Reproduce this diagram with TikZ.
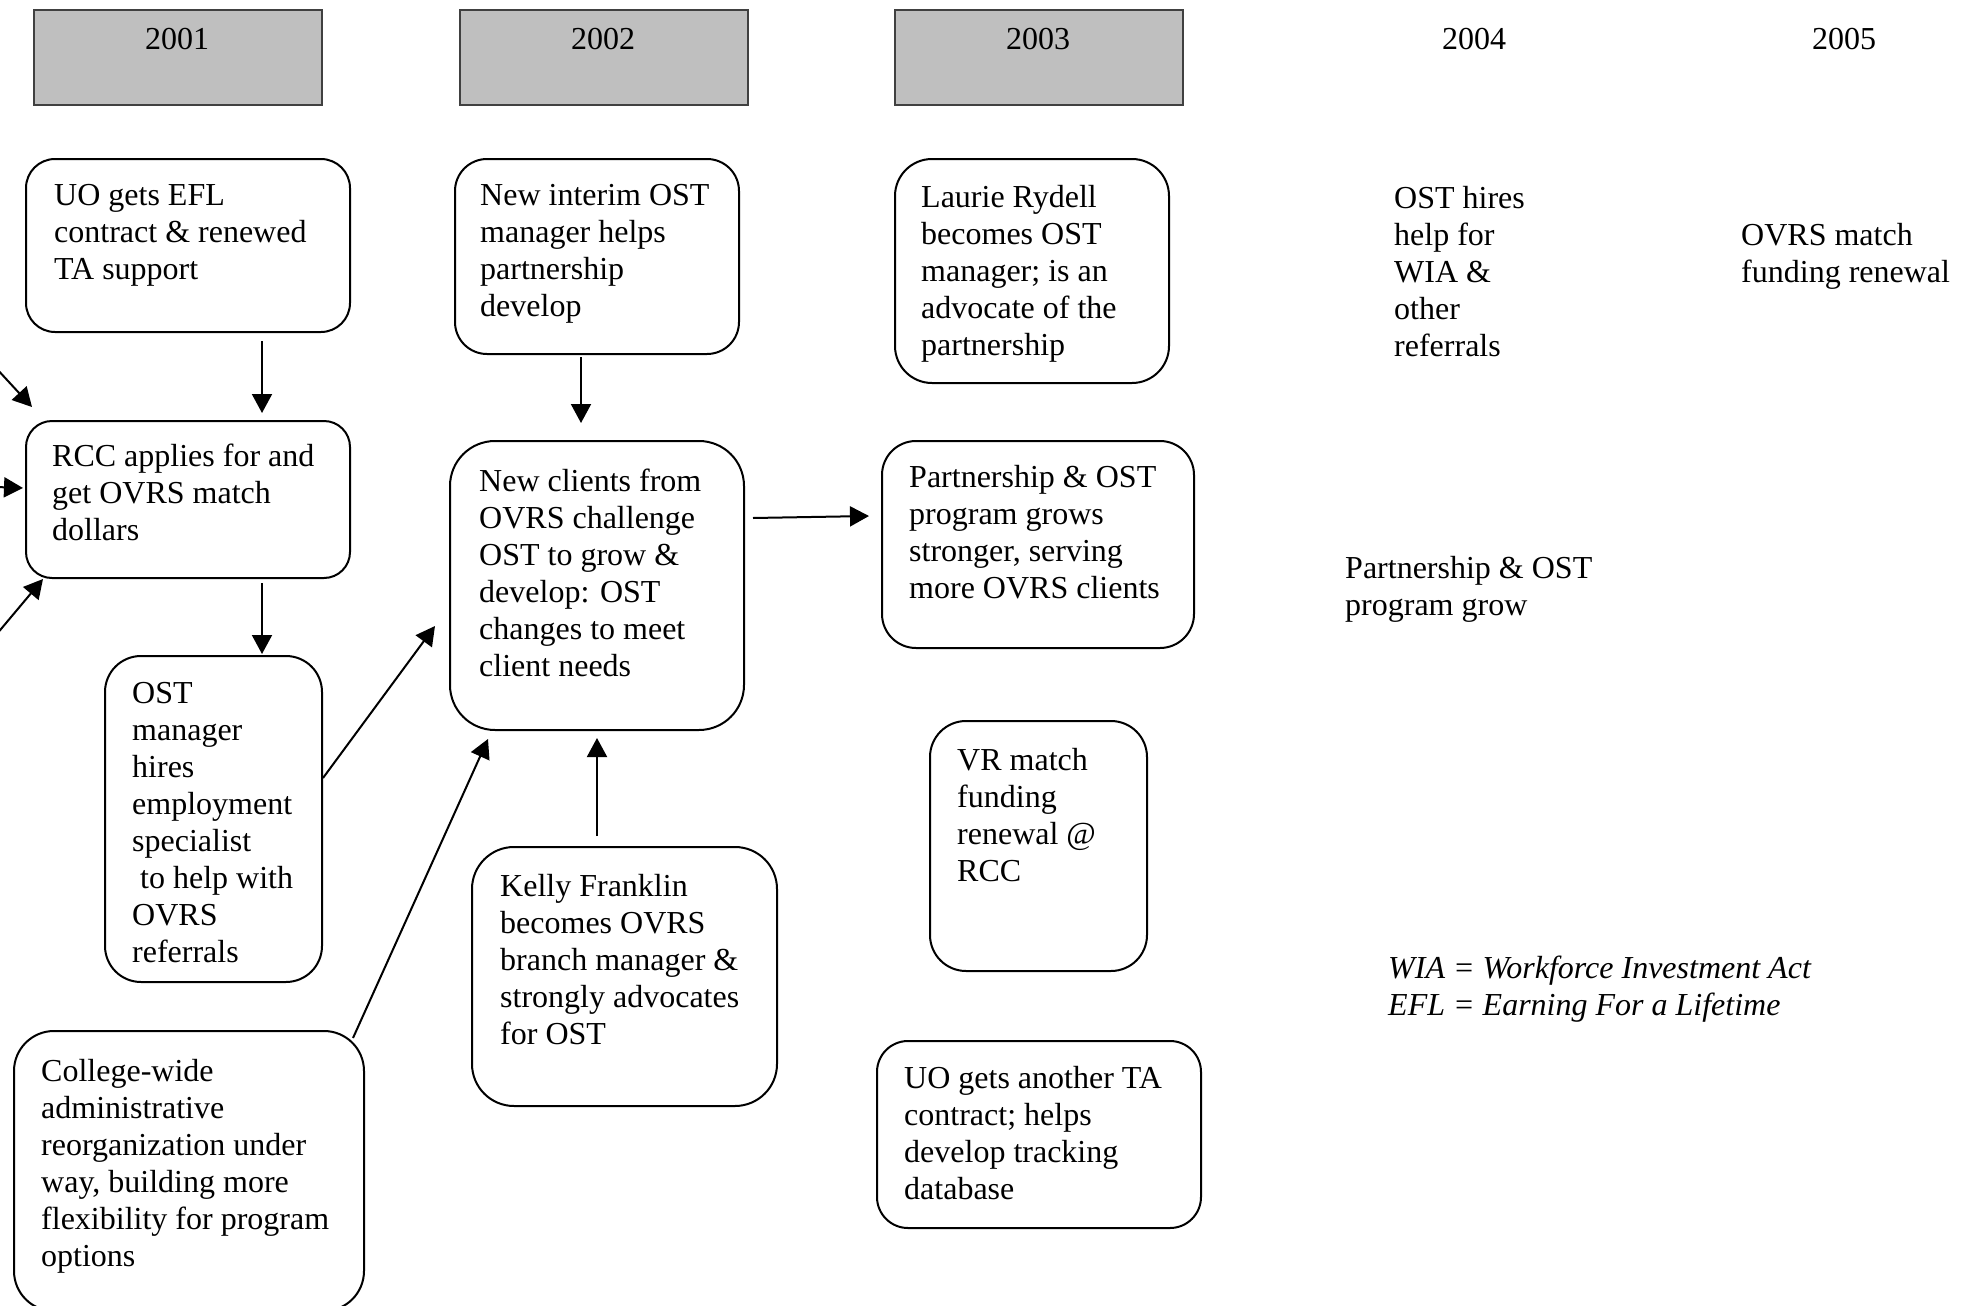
\documentclass[tikz,border=0pt]{standalone}
\usepackage{fontspec}
\setmainfont{Liberation Serif}
\usetikzlibrary{arrows.meta}
\newcommand\bigtxt{\fontsize{32}{37}\selectfont}
\begin{document}
\begin{tikzpicture}[x=1pt,y=1pt,
  rbox/.style={draw=black,line width=2pt,anchor=north west,inner sep=0pt},
  yearbox/.style={draw=black!75,line width=1.6pt,fill=black!25,anchor=north west,inner sep=0pt},
  txt/.style={anchor=north west,inner sep=0pt,align=left,font=\bigtxt,yshift=-5pt,execute at begin node=\strut},
  yr/.style={anchor=base,inner sep=0pt,font=\bigtxt},
  arr/.style={line width=2pt,-{Triangle[length=19pt,width=20pt]}}]
\useasboundingbox (0,0) rectangle (1971,-1306);
% year headers
\node[yearbox,minimum width=288pt,minimum height=95pt] (h1) at (33,-9) {};
\node[yearbox,minimum width=288pt,minimum height=95pt] (h2) at (459,-9) {};
\node[yearbox,minimum width=288pt,minimum height=95pt] (h3) at (894,-9) {};
\node[yr] (y1) at (177,-50) {2001};
\node[yr] (y2) at (603,-50) {2002};
\node[yr] (y3) at (1038,-50) {2003};
\node[yr] (y4) at (1474,-50) {2004};
\node[yr] (y5) at (1844,-50) {2005};
% boxes
\node[rbox,rounded corners=29pt,minimum width=324pt,minimum height=173pt] (uo) at (25,-158) {};
\node[rbox,rounded corners=26pt,minimum width=324pt,minimum height=157pt] (rcc) at (25,-420) {};
\node[rbox,rounded corners=36pt,minimum width=217pt,minimum height=326pt] (ost) at (104,-655) {};
\node[rbox,rounded corners=40pt,minimum width=350pt,minimum height=280pt] (col) at (13,-1030) {};
\node[rbox,rounded corners=32pt,minimum width=284pt,minimum height=195pt] (int) at (454,-158) {};
\node[rbox,rounded corners=45pt,minimum width=294pt,minimum height=289pt] (nc) at (449,-440) {};
\node[rbox,rounded corners=42pt,minimum width=305pt,minimum height=259pt] (kf) at (471,-846) {};
\node[rbox,rounded corners=37pt,minimum width=274pt,minimum height=224pt] (lr) at (894,-158) {};
\node[rbox,rounded corners=34pt,minimum width=312pt,minimum height=207pt] (pgs) at (881,-440) {};
\node[rbox,rounded corners=36pt,minimum width=217pt,minimum height=250pt] (vr) at (929,-720) {};
\node[rbox,rounded corners=31pt,minimum width=324pt,minimum height=187pt] (uo2) at (876,-1040) {};
% texts
\node[txt] (t1) at (54,-179) {UO gets EFL\\contract \& renewed\\TA support};
\node[txt] (t2) at (52,-439) {RCC applies for and\\get OVRS match\\dollars};
\node[txt] (t3) at (132,-677) {OST\\manager\\hires\\employment\\specialist\\\hspace*{8pt}to help with\\OVRS\\referrals};
\node[txt] (t4) at (41,-1054) {College-wide\\administrative\\reorganization under\\way, building more\\flexibility for program\\options};
\node[txt] (t5) at (480,-179) {New interim OST\\manager helps\\partnership\\develop};
\node[txt] (t6) at (479,-464) {New clients from\\OVRS challenge\\OST to grow \&\\develop: OST\\changes to meet\\client needs};
\node[txt] (t7) at (500,-869) {Kelly Franklin\\becomes OVRS\\branch manager \&\\strongly advocates\\for OST};
\node[txt] (t8) at (921,-180) {Laurie Rydell\\becomes OST\\manager; is an\\advocate of the\\partnership};
\node[txt] (t9) at (909,-460) {Partnership \& OST\\program grows\\stronger, serving\\more OVRS clients};
\node[txt] (t10) at (957,-743) {VR match\\funding\\renewal @\\RCC};
\node[txt] (t11) at (904,-1061) {UO gets another TA\\contract; helps\\develop tracking\\database};
\node[txt] (t12) at (1394,-181) {OST hires\\help for\\WIA \&\\other\\referrals};
\node[txt] (t13) at (1741,-218) {OVRS match\\funding renewal};
\node[txt] (t14) at (1345,-551) {Partnership \& OST\\program grow};
\node[txt,font=\bigtxt\itshape] (t15) at (1388,-951) {WIA = Workforce Investment Act\\EFL = Earning For a Lifetime};
% free ends at the left edge
\coordinate (l1) at (-4,-368);
\coordinate (l2) at (-4,-487);
\coordinate (l3) at (-4,-635);
% connectors
\draw[arr] ([xshift=74pt,yshift=-8pt]uo.south) -- ([xshift=74pt,yshift=7pt]rcc.north);
\draw[arr] ([xshift=74pt,yshift=-4pt]rcc.south) -- ([xshift=48.5pt,yshift=1pt]ost.north);
\draw[arr] ([xshift=-16pt,yshift=-2pt]int.south) -- ([xshift=-16pt,yshift=17pt]nc.north);
\draw[arr] ([xshift=8pt,yshift=67.5pt]nc.east) -- ([xshift=-12pt,yshift=28.5pt]pgs.west);
\draw[arr] ([xshift=-27.5pt,yshift=10pt]kf.north) -- ([yshift=-7pt]nc.south);
\draw[arr] ([yshift=41pt]ost.east) -- ([xshift=-14pt,yshift=-40.5pt]nc.west);
\draw[arr] ([xshift=-12pt,yshift=-8pt]col.north east) -- ([xshift=-109pt,yshift=-8pt]nc.south);
\draw[arr] (l1) -- ([xshift=7pt,yshift=13pt]rcc.north west);
\draw[arr] (l2) -- ([xshift=-2pt,yshift=11.5pt]rcc.west);
\draw[arr] (l3) -- ([xshift=18pt]rcc.south west);
\end{tikzpicture}
\end{document}
